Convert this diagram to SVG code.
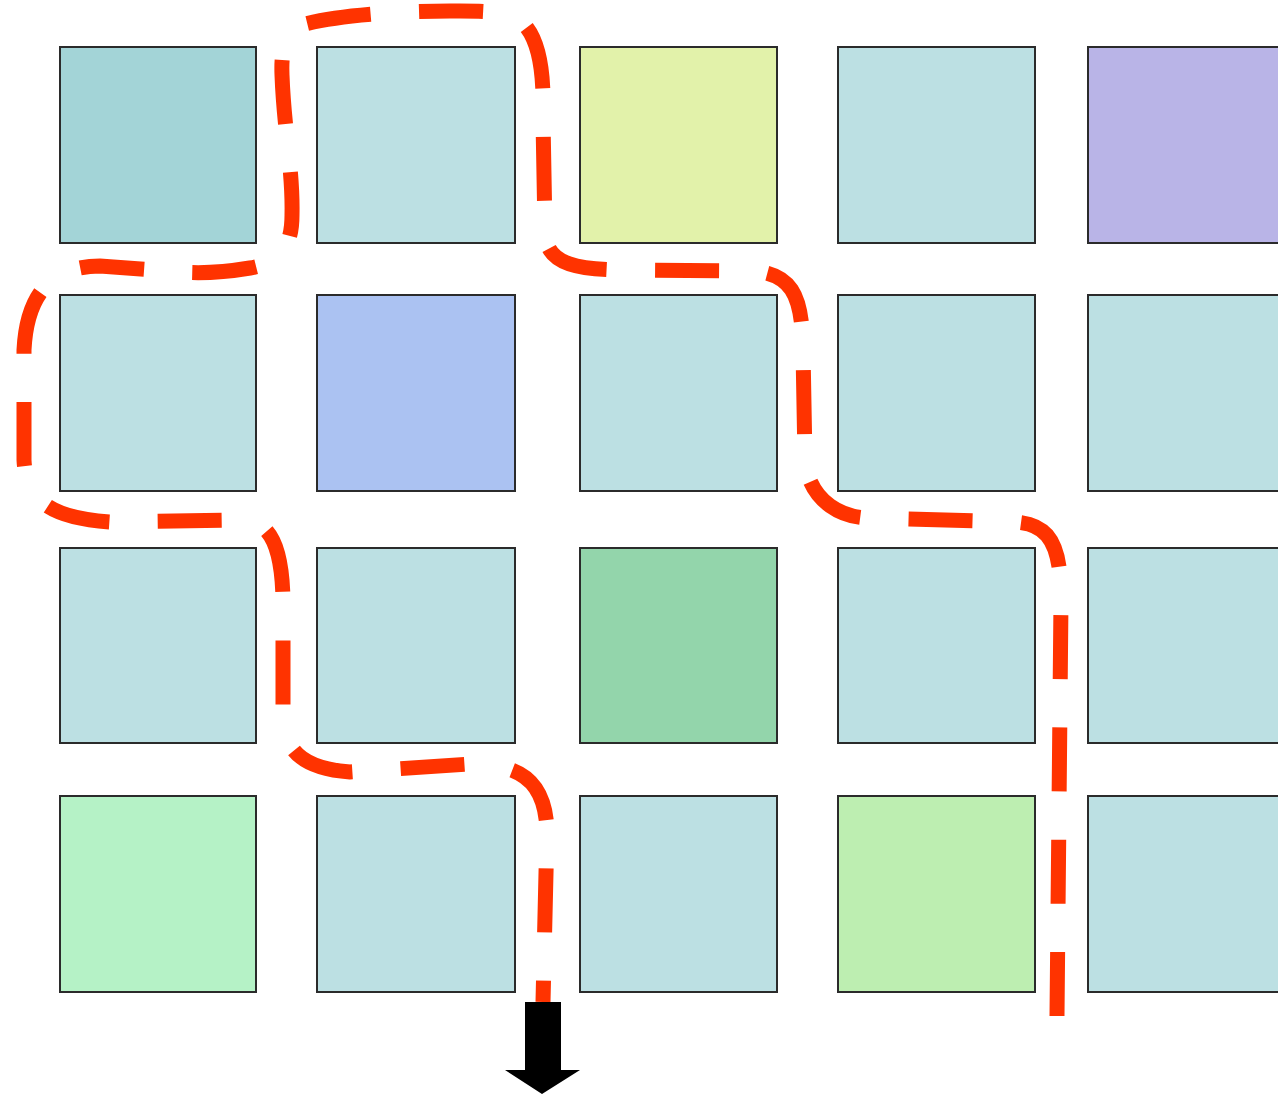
<svg xmlns="http://www.w3.org/2000/svg" width="1278" height="1097" viewBox="0 0 1278 1097">
<style>
.cell{stroke:#2b2b2b;stroke-width:2}
.c0{fill:#bce0e3}
.route{fill:none;stroke:#ff3300;stroke-width:15;stroke-dasharray:64 48.3}
</style>
<rect width="1278" height="1097" fill="#ffffff"/>
<g id="nodes">
<g id="r0c0"><rect class="cell" x="60" y="47" width="196" height="196" fill="#a3d4d7"/></g>
<g id="r0c1"><rect class="cell c0" x="317" y="47" width="198" height="196"/></g>
<g id="r0c2"><rect class="cell" x="580" y="47" width="197" height="196" fill="#e2f2aa"/></g>
<g id="r0c3"><rect class="cell c0" x="838" y="47" width="197" height="196"/></g>
<g id="r0c4"><rect class="cell" x="1088" y="47" width="210" height="196" fill="#b9b4e7"/></g>
<g id="r1c0"><rect class="cell c0" x="60" y="295" width="196" height="196"/></g>
<g id="r1c1"><rect class="cell" x="317" y="295" width="198" height="196" fill="#abc2f2"/></g>
<g id="r1c2"><rect class="cell c0" x="580" y="295" width="197" height="196"/></g>
<g id="r1c3"><rect class="cell c0" x="838" y="295" width="197" height="196"/></g>
<g id="r1c4"><rect class="cell c0" x="1088" y="295" width="210" height="196"/></g>
<g id="r2c0"><rect class="cell c0" x="60" y="548" width="196" height="195"/></g>
<g id="r2c1"><rect class="cell c0" x="317" y="548" width="198" height="195"/></g>
<g id="r2c2"><rect class="cell" x="580" y="548" width="197" height="195" fill="#93d5ab"/></g>
<g id="r2c3"><rect class="cell c0" x="838" y="548" width="197" height="195"/></g>
<g id="r2c4"><rect class="cell c0" x="1088" y="548" width="210" height="195"/></g>
<g id="r3c0"><rect class="cell" x="60" y="796" width="196" height="196" fill="#b5f2c6"/></g>
<g id="r3c1"><rect class="cell c0" x="317" y="796" width="198" height="196"/></g>
<g id="r3c2"><rect class="cell c0" x="580" y="796" width="197" height="196"/></g>
<g id="r3c3"><rect class="cell" x="838" y="796" width="197" height="196" fill="#bdeeb1"/></g>
<g id="r3c4"><rect class="cell c0" x="1088" y="796" width="210" height="196"/></g>
</g>
<g id="connectors">
<path class="route" d="M 1057 1016 L 1061 600 C 1061 545 1050 524 1015 522 L 870 518 C 835 518 808 495 805 460 L 803 350 C 802 300 795 275 755 271 L 620 270 C 570 269 545 262 545 230 L 543 120 C 544 70 540 40 522 22 C 505 10 480 11 450 11 C 400 11 340 15 305 24 C 285 30 281 50 282 75 C 284 130 293 170 292 215 C 292 240 285 262 250 268 C 220 273 195 274 170 271 L 100 266 C 55 266 27 290 24 350 L 24 460 C 26 500 50 518 110 522 L 240 520 C 270 520 282 545 283 600 L 283 710 C 283 745 295 768 350 772 L 470 764 C 520 764 545 780 547 830 L 543 1002"/>
<polygon id="arrow" points="525,1002 561,1002 561,1070 580,1070 542,1094 505,1070 525,1070" fill="#000000"/>
</g>
</svg>
